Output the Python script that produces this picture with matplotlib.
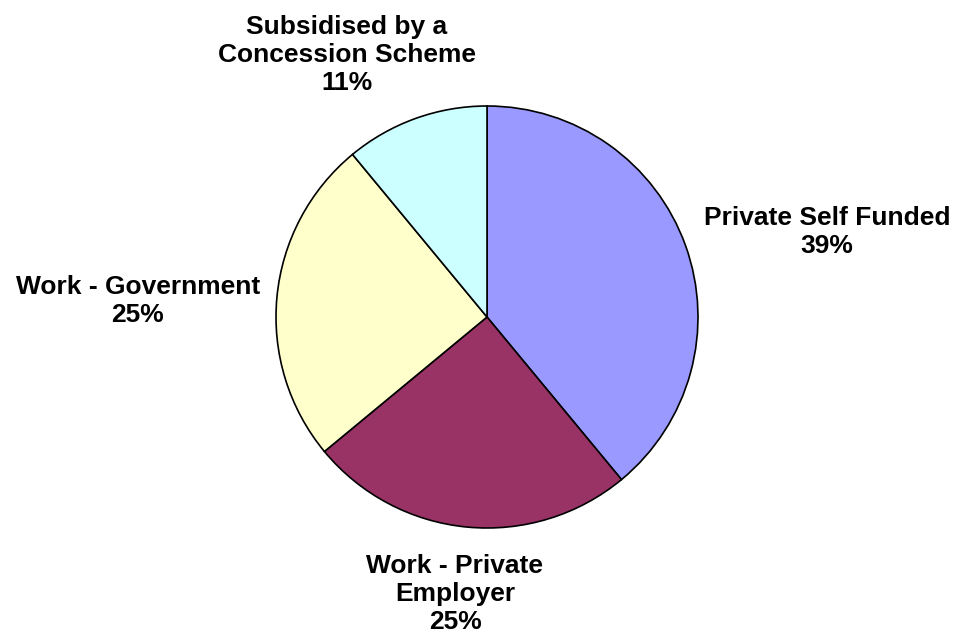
import matplotlib
matplotlib.use("Agg")
import matplotlib.pyplot as plt

# funding source shares (%), clockwise from 12 o'clock
categories = ["Private Self Funded", "Work - Private\nEmployer",
              "Work - Government", "Subsidised by a\nConcession Scheme"]
shares = [39, 25, 25, 11]
colors = ["#9999FF", "#993366", "#FFFFCC", "#CCFFFF"]

# label anchor points in pixel space (centre of each text block)
label_pos = [(827, 410), (455, 48), (138, 341), (347, 587)]

plt.rcParams['font.family'] = ['Liberation Sans', 'DejaVu Sans']

fig = plt.figure(figsize=(9.59, 6.42), dpi=100)
ax = fig.add_axes([0, 0, 1, 1])

wedges, _ = ax.pie(shares, colors=colors, startangle=90, counterclock=False,
                   center=(487, 325), radius=211,
                   wedgeprops=dict(edgecolor='black', linewidth=1.2))
ax.set_xlim(0, 959)
ax.set_ylim(0, 642)
ax.set_aspect('equal')
ax.axis('off')

for name, val, (x, y) in zip(categories, shares, label_pos):
    ax.text(x, y, f"{name}\n{val}%", ha='center', va='center',
            fontsize=19, fontweight='bold', linespacing=1.2)

fig.savefig("out.png", dpi=100)
